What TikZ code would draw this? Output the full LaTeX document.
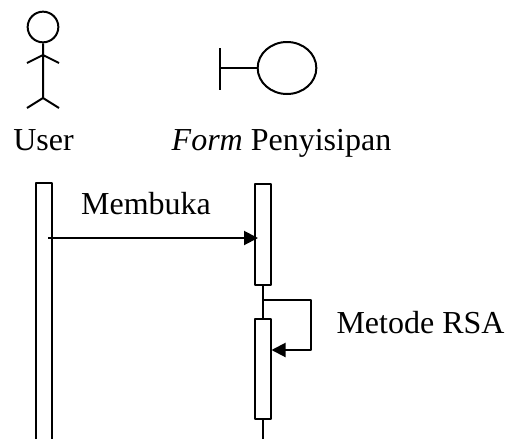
\documentclass[tikz,border=0pt]{standalone}
\usepackage{fontspec}
\setmainfont{Liberation Serif}
\usetikzlibrary{arrows.meta,shapes.geometric}
\tikzset{
	objlabel/.style={anchor=base,font=\fontsize{24}{28}\selectfont,inner sep=0pt},
	bar/.style={draw,fill=white,minimum width=12pt,inner sep=0pt,anchor=north}
}
\begin{document}
\begin{tikzpicture}[x=0.75pt,y=-0.75pt,line join=round,line width=1.5pt,>={Triangle[length=10.5pt,width=10.5pt]}]
	\useasboundingbox (0,0) rectangle (509,439);
	% user
	\node[draw,circle,minimum size=23pt,inner sep=0pt] (head) at (43,27) {};
	\coordinate (hip) at (43,98);
	\draw (head.south) -- (hip) (27,63)--(43,55)--(59,63) (27,108)--(hip)--(59,108);
	\node[objlabel] (user) at (43.5,150) {User};
	% form
	\node[draw,ellipse,minimum width=44pt,minimum height=39pt,inner sep=0pt] (form) at (287,68) {};
	\coordinate (formbar) at (220,68);
	\draw (220,48) -- (220,90);
	\draw (formbar) -- (form.west);
	\node[objlabel] (formlabel) at (281.5,150) {\textit{Form} Penyisipan};
	% lifelines
	\draw (36,439)--(36,183)--(52,183)--(52,439);
	\node[bar,minimum height=75.75pt] (act1) at (262.5,183) {};
	\node[bar,minimum height=75pt] (act2) at (262.5,318) {};
	\coordinate (bottom) at (262.5,439);
	\draw (act1.south) -- (act2.north) (act2.south) -- (bottom);
	% messages
	\coordinate (msgstart) at (48,238);
	\coordinate (msgend) at (258,238);
	\draw[->] (msgstart) -- (msgend);
	\node[objlabel] (membuka) at (146,214.5) {Membuka};
	\coordinate (selfout) at (262.5,300);
	\coordinate (selfback) at (311,350);
	\draw[->] (selfout) -| (selfback) -- (act2.east |- selfback);
	\node[objlabel] (rsa) at (420.5,333) {Metode RSA};
\end{tikzpicture}
\end{document}
